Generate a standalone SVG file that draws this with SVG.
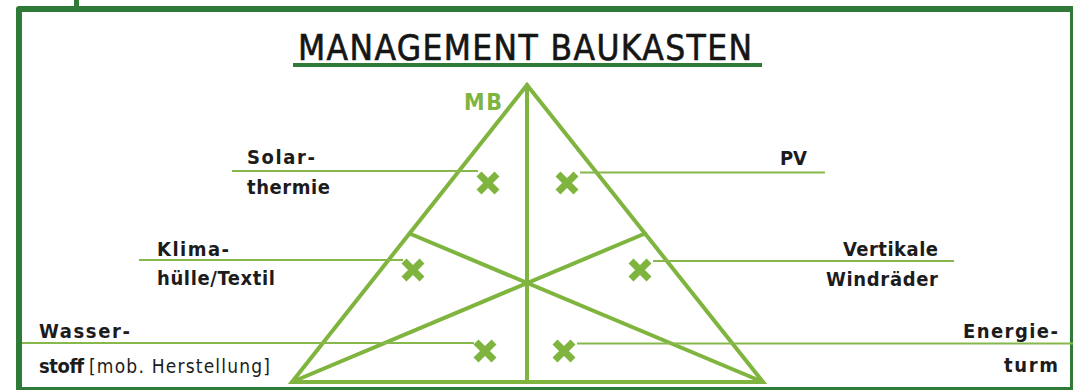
<svg xmlns="http://www.w3.org/2000/svg" width="1073" height="390" viewBox="0 0 1073 390">
<style>
.frame{fill:none;stroke:#2f7a38;stroke-linejoin:round}
.tri{fill:none;stroke:#7fb43f;stroke-width:4;stroke-linejoin:miter;stroke-linecap:round}
.lead{fill:none;stroke:#86b84c;stroke-width:1.8}
.x{fill:none;stroke:#7fb43f;stroke-width:7;stroke-linecap:butt}
.lbl{font-family:"Liberation Sans Narrow","DejaVu Sans Condensed","Liberation Sans",sans-serif;font-stretch:condensed;font-weight:bold;font-size:20px;fill:#1c1c1c}
.lblr{font-family:"Liberation Sans Narrow","DejaVu Sans Condensed","Liberation Sans",sans-serif;font-stretch:condensed;font-weight:normal;font-size:19px;fill:#1c1c1c}
.title{font-family:"Liberation Sans Narrow","DejaVu Sans Condensed","Liberation Sans",sans-serif;font-stretch:condensed;font-size:35px;fill:#151515;stroke:#151515;stroke-width:0.6}
.mb{font-family:"Liberation Sans Narrow","DejaVu Sans Condensed","Liberation Sans",sans-serif;font-stretch:condensed;font-weight:bold;font-size:23px;fill:#7fb43f}
</style>
<rect width="1073" height="390" fill="#ffffff"/>
<g id="frame">
<path class="frame" stroke-width="6" d="M19,390 V9 H1073"/>
<line class="frame" stroke-width="3" x1="19" y1="388.5" x2="1073" y2="388.5"/>
<line class="frame" stroke-width="3" x1="1071.5" y1="9" x2="1071.5" y2="390"/>
<line class="frame" stroke-width="5" x1="76.5" y1="0" x2="76.5" y2="9"/>
</g>
<g id="title">
<text class="title" x="298" y="60" textLength="454" lengthAdjust="spacing">MANAGEMENT BAUKASTEN</text>
<line x1="293" y1="65" x2="762" y2="65" stroke="#2f7a38" stroke-width="4"/>
</g>
<g id="triangle">
<text class="mb" x="464" y="110" textLength="38" lengthAdjust="spacing">MB</text>
<path class="tri" d="M527,85 L292,382 L763,382 Z"/>
<line class="tri" x1="527" y1="85" x2="527" y2="382"/>
<line class="tri" x1="292" y1="382" x2="645" y2="233.5"/>
<line class="tri" x1="763" y1="382" x2="409.5" y2="233.5"/>
</g>
<g id="connectors">
<line class="lead" x1="232" y1="171" x2="478" y2="171"/>
<line class="lead" x1="580" y1="172.5" x2="825" y2="172.5"/>
<line class="lead" x1="139" y1="260" x2="403" y2="260"/>
<line class="lead" x1="653" y1="261" x2="954" y2="261"/>
<line class="lead" x1="22" y1="343" x2="474" y2="343"/>
<line class="lead" x1="577" y1="343.5" x2="1073" y2="343.5"/>
</g>
<g id="solarthermie">
<text class="lbl" x="247" y="164" textLength="68" lengthAdjust="spacing">Solar-</text>
<text class="lbl" x="247" y="194" textLength="83" lengthAdjust="spacing">thermie</text>
<path class="x" d="M479,174 L497,192 M497,174 L479,192"/>
</g>
<g id="pv">
<text class="lbl" x="780" y="165" textLength="27" lengthAdjust="spacing">PV</text>
<path class="x" d="M558,174 L576,192 M576,174 L558,192"/>
</g>
<g id="klimahuelle">
<text class="lbl" x="157" y="256" textLength="72" lengthAdjust="spacing">Klima-</text>
<text class="lbl" x="157" y="285" textLength="118" lengthAdjust="spacing">hülle/Textil</text>
<path class="x" d="M404,261 L422,279 M422,261 L404,279"/>
</g>
<g id="windraeder">
<text class="lbl" x="843" y="256" textLength="95" lengthAdjust="spacing">Vertikale</text>
<text class="lbl" x="826" y="286" textLength="112" lengthAdjust="spacing">Windräder</text>
<path class="x" d="M631,261 L649,279 M649,261 L631,279"/>
</g>
<g id="wasserstoff">
<text class="lbl" x="39" y="338" textLength="91" lengthAdjust="spacing">Wasser-</text>
<text class="lbl" x="39" y="372.5" textLength="45" lengthAdjust="spacing">stoff</text>
<text class="lblr" x="89" y="372.5" textLength="181" lengthAdjust="spacing">[mob. Herstellung]</text>
<path class="x" d="M476,342 L494,360 M494,342 L476,360"/>
</g>
<g id="energieturm">
<text class="lbl" x="963" y="338" textLength="95" lengthAdjust="spacing">Energie-</text>
<text class="lbl" x="1004" y="372" textLength="54" lengthAdjust="spacing">turm</text>
<path class="x" d="M555,342 L573,360 M573,342 L555,360"/>
</g>
</svg>
